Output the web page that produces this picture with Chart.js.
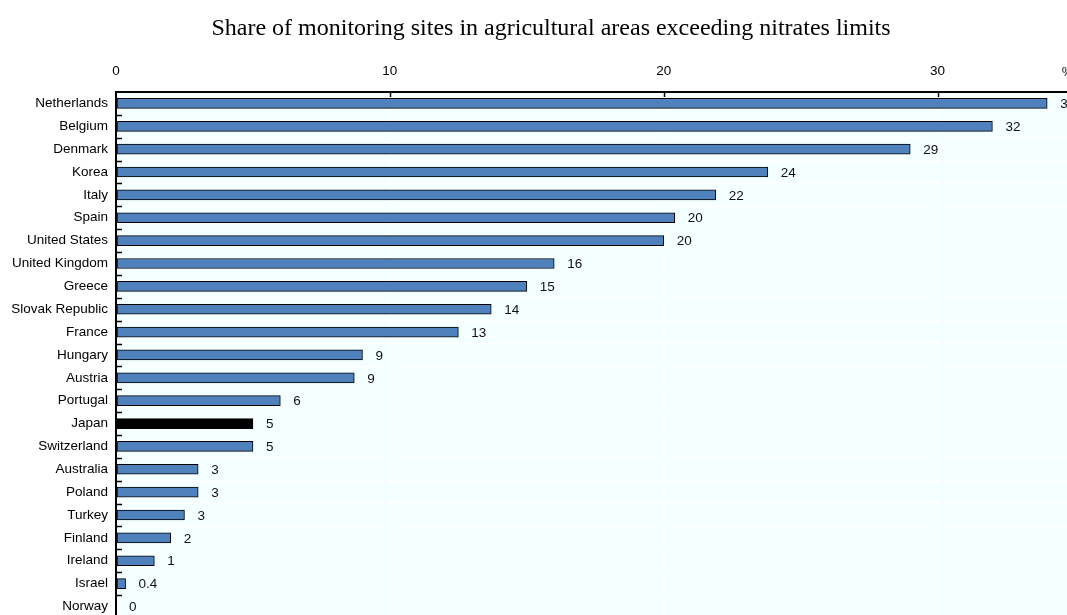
<!DOCTYPE html>
<html>
<head>
<meta charset="utf-8">
<script src="https://cdn.jsdelivr.net/npm/chart.js@4.4.0/dist/chart.umd.min.js"></script>
<style>
  body { margin: 0; background: #fff; }
  #wrap { width: 1067px; height: 615px; overflow: hidden; position: relative; }
</style>
</head>
<body>
<div id="wrap"><canvas id="myChart" width="1232" height="634"></canvas></div>
<script>
const countries = ['Netherlands', 'Belgium', 'Denmark', 'Korea', 'Italy', 'Spain', 'United States',
  'United Kingdom', 'Greece', 'Slovak Republic', 'France', 'Hungary', 'Austria', 'Portugal', 'Japan',
  'Switzerland', 'Australia', 'Poland', 'Turkey', 'Finland', 'Ireland', 'Israel', 'Norway']
const shares = [34, 32, 29, 23.8, 21.9, 20.4, 20, 16, 15, 13.7, 12.5, 9, 8.7, 6, 5, 5, 3, 3, 2.5, 2, 1.4, 0.35, 0]
const shareLabels = ['34', '32', '29', '24', '22', '20', '20', '16', '15', '14', '13', '9', '9', '6', '5', '5',
  '3', '3', '3', '2', '1', '0.4', '0']
const xTicks = [0, 10, 20, 30, 40]
const unitLabel = '%'
const chartTitle = 'Share of monitoring sites in agricultural areas exceeding nitrates limits'

const blue = '#4F81BD'
const barColors = countries.map(c => c === 'Japan' ? '#000000' : blue)
const sans = 'Liberation Sans, Arial, sans-serif'

// light plot background
const bgPlugin = {
  id: 'bg',
  beforeDraw(chart) {
    const a = chart.chartArea
    const c = chart.ctx
    c.save()
    c.fillStyle = '#F4FFFF'
    c.fillRect(a.left, a.top, a.right - a.left, a.bottom - a.top)
    c.restore()
  }
}

// title, small inward tick marks, unit label, value labels
const extrasPlugin = {
  id: 'extras',
  afterDatasetsDraw(chart) {
    const c = chart.ctx
    const x = chart.scales.x
    const y = chart.scales.y
    const a = chart.chartArea
    c.save()
    // title (centred on the visible page, not the wider canvas)
    c.fillStyle = '#000'
    c.font = '24px Liberation Serif, Times New Roman, serif'
    c.textAlign = 'center'
    c.textBaseline = 'middle'
    c.fillText(chartTitle, 551, 29)

    c.strokeStyle = '#000'
    c.lineWidth = 1.5
    // x ticks pointing down
    xTicks.forEach(v => {
      if (v === 0) return
      const px = Math.round(x.getPixelForValue(v)) + 0.5
      c.beginPath()
      c.moveTo(px, a.top)
      c.lineTo(px, a.top + 5)
      c.stroke()
    })
    // y ticks between categories pointing right
    for (let i = 1; i < countries.length; i++) {
      const py = Math.round((y.getPixelForValue(i - 1) + y.getPixelForValue(i)) / 2) + 0.5
      c.beginPath()
      c.moveTo(a.left, py)
      c.lineTo(a.left + 6, py)
      c.stroke()
    }
    // value labels
    c.fillStyle = '#111'
    c.font = '13.5px ' + sans
    c.textAlign = 'left'
    c.textBaseline = 'middle'
    const meta = chart.getDatasetMeta(0)
    meta.data.forEach((bar, i) => {
      c.fillText(shareLabels[i], bar.x + 13, bar.y + 1)
    })
    // unit label at end of top axis
    c.textAlign = 'center'
    c.textBaseline = 'bottom'
    c.fillText(unitLabel, x.getPixelForValue(34.75), a.top - 13)
    c.restore()
  }
}

const ctx = document.getElementById('myChart').getContext('2d')

let myChart = new Chart(ctx, {
  type: 'bar',
  data: {
    labels: countries,
    datasets: [{
      data: shares,
      backgroundColor: barColors,
      borderColor: '#000',
      borderWidth: 1,
      borderSkipped: false,
      barThickness: 10
    }]
  },
  plugins: [bgPlugin, extrasPlugin],
  options: {
    indexAxis: 'y',
    responsive: false,
    animation: false,
    layout: { padding: { left: 0, right: 18, top: 52, bottom: 3 } },
    plugins: {
      legend: { display: false },
      tooltip: { enabled: false },
      title: { display: false }
    },
    scales: {
      x: {
        position: 'top',
        min: 0,
        max: 40,
        afterBuildTicks(scale) {
          scale.ticks = xTicks.map(v => ({ value: v }))
        },
        afterFit(scale) {
          scale.height = 40
        },
        ticks: { color: '#000', font: { family: sans, size: 13.5 }, padding: 13, maxRotation: 0 },
        grid: { color: '#ffffff', lineWidth: 2, drawTicks: false },
        border: { color: '#000', width: 2 }
      },
      y: {
        afterFit(scale) {
          scale.width = 116
        },
        ticks: { color: '#000', font: { family: sans, size: 13.5 }, padding: 8, autoSkip: false },
        grid: { color: '#ffffff', lineWidth: 1, drawTicks: false, offset: true },
        border: { color: '#000', width: 2 }
      }
    }
  }
})
</script>
</body>
</html>
